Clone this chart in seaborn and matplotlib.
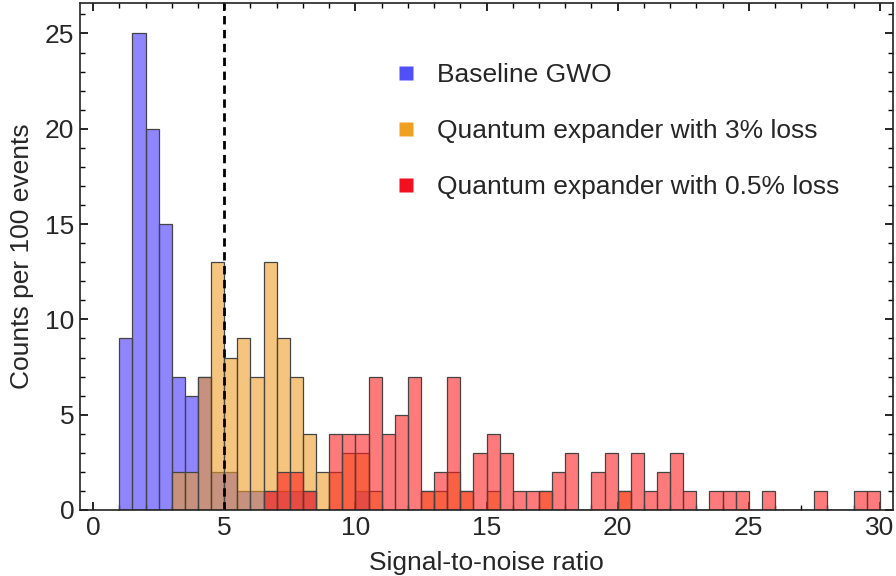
import numpy as np
import pandas as pd
import matplotlib
matplotlib.use('Agg')
import matplotlib.pyplot as plt
from matplotlib.lines import Line2D
from matplotlib.ticker import MultipleLocator
import seaborn as sns

# bins of width 0.5 starting at SNR = 1.0 (58 bins up to 30)
bin_start = 1.0
bin_width = 0.5

baseline_gwo = [9, 25, 20, 15, 7, 6, 7, 2, 2, 1,
                1, 1, 1, 1, 1, 0, 0, 0, 1, 0,
                0, 0, 0, 0, 0, 0, 0, 0, 0, 0,
                0, 0, 0, 0, 0, 0, 0, 0, 0, 0,
                0, 0, 0, 0, 0, 0, 0, 0, 0, 0,
                0, 0, 0, 0, 0, 0, 0, 0]
expander_3pct = [0, 0, 0, 0, 2, 2, 7, 13, 8, 9,
                 7, 13, 9, 7, 4, 2, 2, 3, 3, 1,
                 0, 0, 0, 1, 1, 2, 1, 0, 1, 0,
                 0, 0, 1, 0, 0, 0, 0, 0, 1, 0,
                 0, 0, 0, 0, 0, 0, 0, 0, 0, 0,
                 0, 0, 0, 0, 0, 0, 0, 0]
expander_05pct = [0, 0, 0, 0, 0, 0, 0, 0, 0, 0,
                  0, 1, 2, 2, 1, 0, 4, 4, 4, 7,
                  4, 5, 7, 1, 2, 7, 1, 3, 4, 3,
                  1, 1, 1, 2, 3, 0, 2, 3, 1, 3,
                  1, 2, 3, 1, 0, 1, 1, 1, 0, 1,
                  0, 0, 0, 1, 0, 0, 1, 1]

labels = ['Baseline GWO', 'Quantum expander with 3% loss', 'Quantum expander with 0.5% loss']
colors = ['#3f2eff', '#ee9c22', '#ff1a1a']
legend_colors = ['#5050f8', '#f0a020', '#f01020']

n_bins = len(baseline_gwo)
centers = bin_start + bin_width * (np.arange(n_bins) + 0.5)

# long table for seaborn
frames = []
for lab, vals in zip(labels, [baseline_gwo, expander_3pct, expander_05pct]):
    frames.append(pd.DataFrame({'snr': centers, 'count': vals, 'source': lab}))
df = pd.concat(frames, ignore_index=True)

sns.set_style('ticks')
plt.rcParams['font.family'] = ['Liberation Sans', 'DejaVu Sans']

fig = plt.figure(figsize=(8.96, 5.76), dpi=100)
ax = fig.add_axes([0.0893, 0.1146, 0.9074, 0.8802])

# seaborn layers the first hue level on top, so reverse to get blue at the bottom
sns.histplot(data=df, x='snr', weights='count', hue='source', hue_order=labels[::-1],
             palette=dict(zip(labels, colors)), binwidth=bin_width,
             binrange=(bin_start, bin_start + bin_width * n_bins),
             multiple='layer', alpha=0.58,
             edgecolor='#444444', linewidth=0.9, legend=False, ax=ax)

# threshold line
ax.axvline(5, color='black', linestyle=(0, (3, 2)), linewidth=2)

ax.set_xlim(-0.5, 30.5)
ax.set_ylim(0, 26.6)
ax.xaxis.set_major_locator(MultipleLocator(5))
ax.xaxis.set_minor_locator(MultipleLocator(1))
ax.yaxis.set_major_locator(MultipleLocator(5))
ax.yaxis.set_minor_locator(MultipleLocator(1))
ax.tick_params(which='both', direction='in', top=True, right=True, labelsize=19, color='black')
ax.tick_params(which='major', length=6, width=1.2, pad=4)
ax.tick_params(which='minor', length=3.5, width=1)
for s in ax.spines.values():
    s.set_linewidth(1.2)
    s.set_color('#222222')

ax.set_xlabel('Signal-to-noise ratio', fontsize=19, labelpad=8)
ax.set_ylabel('Counts per 100 events', fontsize=19, labelpad=8)

handles = [Line2D([], [], marker='s', linestyle='none', markersize=10,
                  markerfacecolor=c, markeredgecolor='none') for c in legend_colors]
ax.legend(handles, labels, loc='upper left', bbox_to_anchor=(0.352, 0.929), frameon=False,
          fontsize=19, handletextpad=0.6, labelspacing=1.22, handlelength=1.2)

fig.savefig('out.png', dpi=100)
